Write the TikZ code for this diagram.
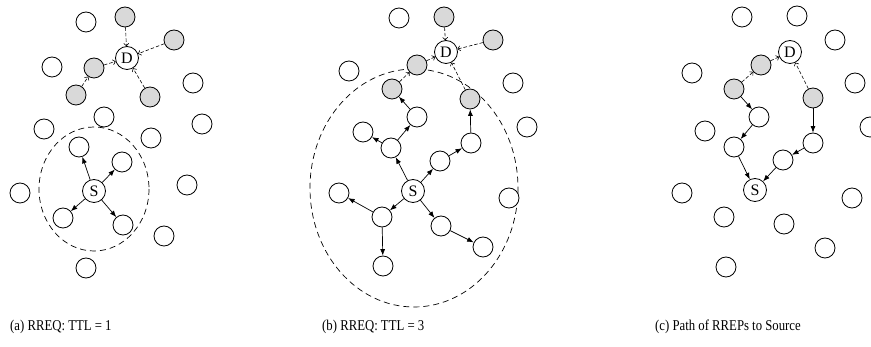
\documentclass[tikz,border=0pt]{standalone}
\usepackage{fontspec}
\setmainfont{Liberation Serif}
\usetikzlibrary{arrows.meta}
\definecolor{nodegray}{RGB}{217,217,217}
\newcommand{\captxt}[1]{\scalebox{0.85}[1]{#1}}
\begin{document}
\begin{tikzpicture}[x=1pt,y=-1pt,
  wn/.style={circle,draw,line width=0.8pt,minimum size=20pt,inner sep=0pt,fill=white},
  gn/.style={wn,fill=nodegray},
  sd/.style={circle,draw,line width=0.8pt,minimum size=23pt,inner sep=0pt,fill=white,font=\fontsize{16}{16}\selectfont},
  req/.style={line width=0.7pt,-{Latex[length=6.5pt,width=5pt]}},
  rep/.style={line width=0.6pt,dash pattern=on 3.5pt off 2pt,-{To[length=3pt,width=5.5pt]}},
  zone/.style={line width=0.7pt,dash pattern=on 6pt off 4pt},
  captext/.style={anchor=west,font=\fontsize{15}{15}\selectfont,inner sep=0pt}]
\useasboundingbox (0,0) rectangle (871,347);
% ---------------- panel (a)
\draw[zone] (94,189) ellipse [x radius=55, y radius=62];
\node[wn] (a1) at (86,22) {};
\node[gn] (a2) at (125,17) {};
\node[gn] (a3) at (174,40) {};
\node[sd] (aD) at (127,58) {D};
\node[wn] (a4) at (52,67) {};
\node[gn] (a5) at (94,68) {};
\node[gn] (a6) at (76,95) {};
\node[gn] (a7) at (150,97) {};
\node[wn] (a8) at (193,83) {};
\node[wn] (a9) at (104,117) {};
\node[wn] (a10) at (44,129) {};
\node[wn] (a11) at (202,124) {};
\node[wn] (a12) at (151,138) {};
\node[wn] (a13) at (79,147) {};
\node[wn] (a14) at (122,162) {};
\node[sd] (aS) at (94,191) {S};
\node[wn] (a15) at (20,193) {};
\node[wn] (a16) at (187,185) {};
\node[wn] (a17) at (63,218) {};
\node[wn] (a18) at (123,225) {};
\node[wn] (a19) at (164,236) {};
\node[wn] (a20) at (86,268) {};
\draw[rep] (a2) -- (aD);
\draw[rep] (a3) -- (aD);
\draw[rep] (a5) -- (aD);
\draw[rep] (a6) -- (a5);
\draw[rep] (a7) -- (aD);
\draw[req] (aS) -- (a13);
\draw[req] (aS) -- (a14);
\draw[req] (aS) -- (a17);
\draw[req] (aS) -- (a18);
% ---------------- panel (b)
\draw[zone] (414,188) ellipse [x radius=104, y radius=119];
\node[wn] (b1) at (399,18) {};
\node[gn] (b2) at (444,17) {};
\node[gn] (b3) at (493,40) {};
\node[sd] (bD) at (446,52) {D};
\node[gn] (b4) at (417,65) {};
\node[wn] (b5) at (349,71) {};
\node[gn] (b6) at (392,89) {};
\node[wn] (b7) at (513,83) {};
\node[gn] (b8) at (470,99) {};
\node[wn] (b9) at (417,117) {};
\node[wn] (b10) at (527,127) {};
\node[wn] (b11) at (363,132) {};
\node[wn] (b12) at (391,148) {};
\node[wn] (b13) at (471,143) {};
\node[wn] (b14) at (440,161) {};
\node[sd] (bS) at (413,191) {S};
\node[wn] (b15) at (339,193) {};
\node[wn] (b16) at (509,198) {};
\node[wn] (b17) at (382,217) {};
\node[wn] (b18) at (441,226) {};
\node[wn] (b19) at (483,247) {};
\node[wn] (b20) at (383,266) {};
\draw[rep] (b2) -- (bD);
\draw[rep] (b3) -- (bD);
\draw[rep] (b4) -- (bD);
\draw[rep] (b6) -- (b4);
\draw[rep] (b8) -- (bD);
\draw[req] (bS) -- (b12);
\draw[req] (b12) -- (b11);
\draw[req] (b12) -- (b9);
\draw[req] (b9) -- (b6);
\draw[req] (bS) -- (b14);
\draw[req] (b14) -- (b13);
\draw[req] (b13) -- (b8);
\draw[req] (bS) -- (b17);
\draw[req] (b17) -- (b15);
\draw[req] (b17) -- (b20);
\draw[req] (bS) -- (b18);
\draw[req] (b18) -- (b19);
% ---------------- panel (c)
\node[wn] (c1) at (742,17) {};
\node[wn] (c2) at (797,16) {};
\node[wn] (c3) at (835,40) {};
\node[sd] (cD) at (790,52) {D};
\node[wn] (c4) at (692,73) {};
\node[gn] (c5) at (761,65) {};
\node[wn] (c6) at (855,83) {};
\node[gn] (c7) at (734,89) {};
\node[gn] (c8) at (813,98) {};
\node[wn] (c9) at (759,117) {};
\node[wn] (c10) at (870,127) {};
\node[wn] (c11) at (705,131) {};
\node[wn] (c12) at (734,147) {};
\node[wn] (c13) at (813,143) {};
\node[wn] (c14) at (783,160) {};
\node[sd] (cS) at (755,190) {S};
\node[wn] (c15) at (682,193) {};
\node[wn] (c16) at (852,198) {};
\node[wn] (c17) at (724,217) {};
\node[wn] (c18) at (784,224) {};
\node[wn] (c19) at (825,248) {};
\node[wn] (c20) at (726,267) {};
\draw[rep] (c7) -- (c5);
\draw[rep] (c5) -- (cD);
\draw[rep] (c8) -- (cD);
\draw[req] (c7) -- (c9);
\draw[req] (c9) -- (c12);
\draw[req] (c12) -- (cS);
\draw[req] (c8) -- (c13);
\draw[req] (c13) -- (c14);
\draw[req] (c14) -- (cS);
% ---------------- captions
\node[captext] (capa) at (10,327) {\captxt{(a) RREQ: TTL = 1}};
\node[captext] (capb) at (322,327) {\captxt{(b) RREQ: TTL = 3}};
\node[captext] (capc) at (655,327) {\captxt{(c) Path of RREPs to Source}};
\end{tikzpicture}
\end{document}
